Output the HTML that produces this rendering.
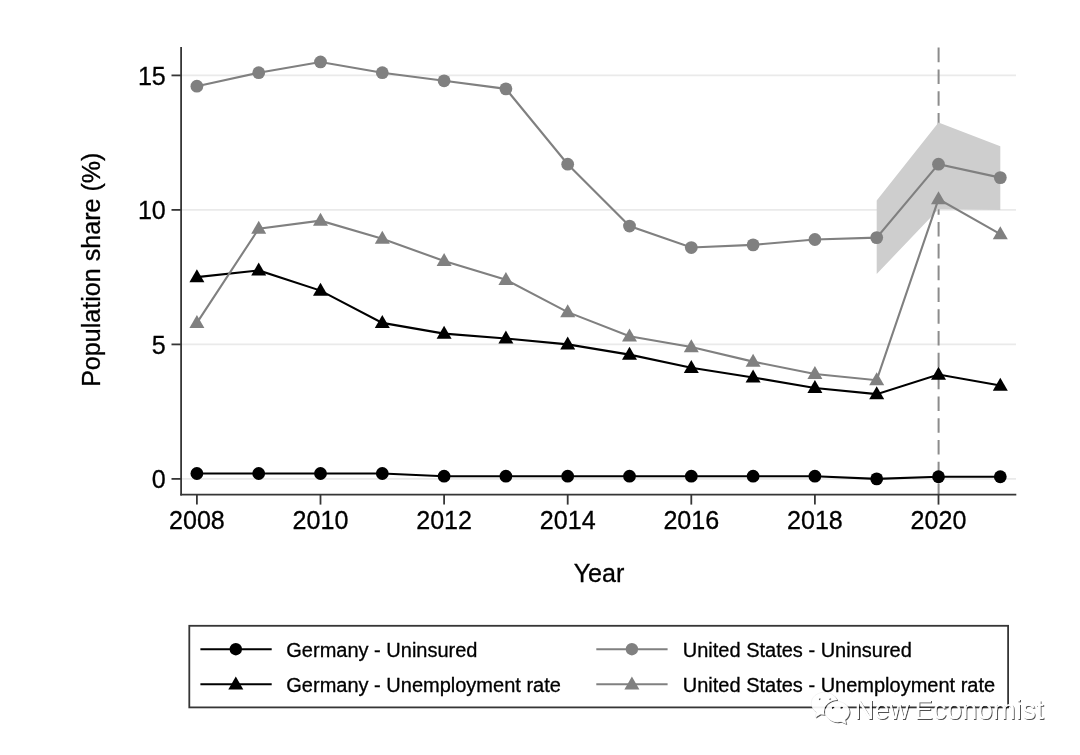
<!DOCTYPE html>
<html lang="en">
<head>
<meta charset="utf-8">
<title>Population share chart</title>
<style>
html,body{margin:0;padding:0;background:#fff;}
body{width:1080px;height:755px;overflow:hidden;font-family:"Liberation Sans",sans-serif;}
svg{display:block;filter:blur(.35px);}
text{font-family:"Liberation Sans",sans-serif;fill:#000;}
.ax,.lg{stroke:#000;stroke-width:.3px;}
.ax{font-size:25.1px;}
.lg{font-size:20px;}
.wmt{font-size:27.25px;fill:#fff;fill-opacity:.95;}
</style>
</head>
<body>
<svg width="1080" height="755" viewBox="0 0 1080 755">
<line x1="181.8" x2="1016" y1="478.9" y2="478.9" stroke="#eaeaea" stroke-width="1.6"/>
<line x1="181.8" x2="1016" y1="344.4" y2="344.4" stroke="#eaeaea" stroke-width="1.6"/>
<line x1="181.8" x2="1016" y1="209.9" y2="209.9" stroke="#eaeaea" stroke-width="1.6"/>
<line x1="181.8" x2="1016" y1="75.4" y2="75.4" stroke="#eaeaea" stroke-width="1.6"/>
<line x1="938.6" x2="938.6" y1="47.6" y2="494" stroke="#8c8c8c" stroke-width="2" stroke-dasharray="14.6 7.2"/>
<polygon points="876.7,200.49 938.5,122.48 1000.3,146.15 1000.3,209.9 938.5,209.36 876.7,273.92" fill="#cecece"/>
<polyline points="196.9,473.52 258.7,473.52 320.5,473.52 382.3,473.52 444.1,476.21 505.9,476.21 567.7,476.21 629.5,476.21 691.3,476.21 753.1,476.21 814.9,476.21 876.7,478.9 938.5,476.75 1000.3,476.75" fill="none" stroke="#000000" stroke-width="2.1"/>
<circle cx="196.9" cy="473.52" r="6.4" fill="#000000"/>
<circle cx="258.7" cy="473.52" r="6.4" fill="#000000"/>
<circle cx="320.5" cy="473.52" r="6.4" fill="#000000"/>
<circle cx="382.3" cy="473.52" r="6.4" fill="#000000"/>
<circle cx="444.1" cy="476.21" r="6.4" fill="#000000"/>
<circle cx="505.9" cy="476.21" r="6.4" fill="#000000"/>
<circle cx="567.7" cy="476.21" r="6.4" fill="#000000"/>
<circle cx="629.5" cy="476.21" r="6.4" fill="#000000"/>
<circle cx="691.3" cy="476.21" r="6.4" fill="#000000"/>
<circle cx="753.1" cy="476.21" r="6.4" fill="#000000"/>
<circle cx="814.9" cy="476.21" r="6.4" fill="#000000"/>
<circle cx="876.7" cy="478.9" r="6.4" fill="#000000"/>
<circle cx="938.5" cy="476.75" r="6.4" fill="#000000"/>
<circle cx="1000.3" cy="476.75" r="6.4" fill="#000000"/>
<polyline points="196.9,277.15 258.7,270.42 320.5,290.6 382.3,322.88 444.1,333.64 505.9,338.48 567.7,344.4 629.5,354.62 691.3,367.8 753.1,377.49 814.9,387.98 876.7,394.16 938.5,374.53 1000.3,385.56" fill="none" stroke="#000000" stroke-width="2.1"/>
<polygon points="196.9,269.25 204.4,282.25 189.4,282.25" fill="#000000"/>
<polygon points="258.7,262.52 266.2,275.52 251.2,275.52" fill="#000000"/>
<polygon points="320.5,282.7 328,295.7 313,295.7" fill="#000000"/>
<polygon points="382.3,314.98 389.8,327.98 374.8,327.98" fill="#000000"/>
<polygon points="444.1,325.74 451.6,338.74 436.6,338.74" fill="#000000"/>
<polygon points="505.9,330.58 513.4,343.58 498.4,343.58" fill="#000000"/>
<polygon points="567.7,336.5 575.2,349.5 560.2,349.5" fill="#000000"/>
<polygon points="629.5,346.72 637,359.72 622,359.72" fill="#000000"/>
<polygon points="691.3,359.9 698.8,372.9 683.8,372.9" fill="#000000"/>
<polygon points="753.1,369.59 760.6,382.59 745.6,382.59" fill="#000000"/>
<polygon points="814.9,380.08 822.4,393.08 807.4,393.08" fill="#000000"/>
<polygon points="876.7,386.26 884.2,399.26 869.2,399.26" fill="#000000"/>
<polygon points="938.5,366.63 946,379.63 931,379.63" fill="#000000"/>
<polygon points="1000.3,377.66 1007.8,390.66 992.8,390.66" fill="#000000"/>
<polyline points="196.9,86.16 258.7,72.71 320.5,61.95 382.3,72.71 444.1,80.78 505.9,88.85 567.7,164.17 629.5,226.04 691.3,247.56 753.1,244.87 814.9,239.49 876.7,237.61 938.5,164.17 1000.3,177.62" fill="none" stroke="#808080" stroke-width="2.1"/>
<circle cx="196.9" cy="86.16" r="6.4" fill="#808080"/>
<circle cx="258.7" cy="72.71" r="6.4" fill="#808080"/>
<circle cx="320.5" cy="61.95" r="6.4" fill="#808080"/>
<circle cx="382.3" cy="72.71" r="6.4" fill="#808080"/>
<circle cx="444.1" cy="80.78" r="6.4" fill="#808080"/>
<circle cx="505.9" cy="88.85" r="6.4" fill="#808080"/>
<circle cx="567.7" cy="164.17" r="6.4" fill="#808080"/>
<circle cx="629.5" cy="226.04" r="6.4" fill="#808080"/>
<circle cx="691.3" cy="247.56" r="6.4" fill="#808080"/>
<circle cx="753.1" cy="244.87" r="6.4" fill="#808080"/>
<circle cx="814.9" cy="239.49" r="6.4" fill="#808080"/>
<circle cx="876.7" cy="237.61" r="6.4" fill="#808080"/>
<circle cx="938.5" cy="164.17" r="6.4" fill="#808080"/>
<circle cx="1000.3" cy="177.62" r="6.4" fill="#808080"/>
<polyline points="196.9,322.88 258.7,228.73 320.5,220.66 382.3,238.68 444.1,261.01 505.9,279.84 567.7,312.12 629.5,336.33 691.3,347.09 753.1,361.62 814.9,373.99 876.7,380.18 938.5,199.14 1000.3,234.11" fill="none" stroke="#808080" stroke-width="2.1"/>
<polygon points="196.9,314.98 204.4,327.98 189.4,327.98" fill="#808080"/>
<polygon points="258.7,220.83 266.2,233.83 251.2,233.83" fill="#808080"/>
<polygon points="320.5,212.76 328,225.76 313,225.76" fill="#808080"/>
<polygon points="382.3,230.78 389.8,243.78 374.8,243.78" fill="#808080"/>
<polygon points="444.1,253.11 451.6,266.11 436.6,266.11" fill="#808080"/>
<polygon points="505.9,271.94 513.4,284.94 498.4,284.94" fill="#808080"/>
<polygon points="567.7,304.22 575.2,317.22 560.2,317.22" fill="#808080"/>
<polygon points="629.5,328.43 637,341.43 622,341.43" fill="#808080"/>
<polygon points="691.3,339.19 698.8,352.19 683.8,352.19" fill="#808080"/>
<polygon points="753.1,353.72 760.6,366.72 745.6,366.72" fill="#808080"/>
<polygon points="814.9,366.09 822.4,379.09 807.4,379.09" fill="#808080"/>
<polygon points="876.7,372.28 884.2,385.28 869.2,385.28" fill="#808080"/>
<polygon points="938.5,191.24 946,204.24 931,204.24" fill="#808080"/>
<polygon points="1000.3,226.21 1007.8,239.21 992.8,239.21" fill="#808080"/>
<line x1="181.1" x2="181.1" y1="47" y2="495.5" stroke="#363636" stroke-width="1.8"/>
<line x1="180.3" x2="1016.3" y1="494.7" y2="494.7" stroke="#363636" stroke-width="1.8"/>
<line x1="171.5" x2="181.1" y1="478.9" y2="478.9" stroke="#363636" stroke-width="1.8"/>
<text x="165.8" y="488.4" text-anchor="end" class="ax">0</text>
<line x1="171.5" x2="181.1" y1="344.4" y2="344.4" stroke="#363636" stroke-width="1.8"/>
<text x="165.8" y="353.9" text-anchor="end" class="ax">5</text>
<line x1="171.5" x2="181.1" y1="209.9" y2="209.9" stroke="#363636" stroke-width="1.8"/>
<text x="165.8" y="219.4" text-anchor="end" class="ax">10</text>
<line x1="171.5" x2="181.1" y1="75.4" y2="75.4" stroke="#363636" stroke-width="1.8"/>
<text x="165.8" y="84.9" text-anchor="end" class="ax">15</text>
<line x1="196.9" x2="196.9" y1="494.7" y2="504.6" stroke="#363636" stroke-width="1.8"/>
<text x="196.9" y="528.7" text-anchor="middle" class="ax">2008</text>
<line x1="320.5" x2="320.5" y1="494.7" y2="504.6" stroke="#363636" stroke-width="1.8"/>
<text x="320.5" y="528.7" text-anchor="middle" class="ax">2010</text>
<line x1="444.1" x2="444.1" y1="494.7" y2="504.6" stroke="#363636" stroke-width="1.8"/>
<text x="444.1" y="528.7" text-anchor="middle" class="ax">2012</text>
<line x1="567.7" x2="567.7" y1="494.7" y2="504.6" stroke="#363636" stroke-width="1.8"/>
<text x="567.7" y="528.7" text-anchor="middle" class="ax">2014</text>
<line x1="691.3" x2="691.3" y1="494.7" y2="504.6" stroke="#363636" stroke-width="1.8"/>
<text x="691.3" y="528.7" text-anchor="middle" class="ax">2016</text>
<line x1="814.9" x2="814.9" y1="494.7" y2="504.6" stroke="#363636" stroke-width="1.8"/>
<text x="814.9" y="528.7" text-anchor="middle" class="ax">2018</text>
<line x1="938.5" x2="938.5" y1="494.7" y2="504.6" stroke="#363636" stroke-width="1.8"/>
<text x="938.5" y="528.7" text-anchor="middle" class="ax">2020</text>
<text x="599" y="581.5" text-anchor="middle" class="ax">Year</text>
<text transform="translate(100.2 269.7) rotate(-90)" text-anchor="middle" class="ax">Population share (%)</text>
<rect x="189.3" y="625.8" width="818.8" height="81.6" fill="#fff" stroke="#363636" stroke-width="1.8"/>
<line x1="200.4" x2="271.7" y1="649.2" y2="649.2" stroke="#000000" stroke-width="2"/><circle cx="235.8" cy="649.2" r="6.2" fill="#000000"/><text x="286.3" y="657.2" class="lg">Germany - Uninsured</text>
<line x1="200.4" x2="271.7" y1="684.3" y2="684.3" stroke="#000000" stroke-width="2"/><polygon points="235.8,676.4 243.3,689.4 228.3,689.4" fill="#000000"/><text x="286.3" y="692.3" class="lg">Germany - Unemployment rate</text>
<line x1="596.3" x2="667.6" y1="649.2" y2="649.2" stroke="#808080" stroke-width="2"/><circle cx="631.9" cy="649.2" r="6.2" fill="#808080"/><text x="682.8" y="657.2" class="lg">United States - Uninsured</text>
<line x1="596.3" x2="667.6" y1="684.3" y2="684.3" stroke="#808080" stroke-width="2"/><polygon points="631.9,676.4 639.4,689.4 624.4,689.4" fill="#808080"/><text x="682.8" y="692.3" class="lg">United States - Unemployment rate</text>
<defs>
<mask id="cut" maskUnits="userSpaceOnUse" x="800" y="685" width="60" height="45">
<rect x="800" y="685" width="60" height="45" fill="#fff"/>
<ellipse cx="837.4" cy="711.8" rx="13.4" ry="11.7" fill="#000"/>
<ellipse cx="819.9" cy="699.3" rx="1.15" ry="1.15" fill="#000"/>
<ellipse cx="830.3" cy="699.3" rx="1.15" ry="1.15" fill="#000"/>
</mask>
<mask id="cut2" maskUnits="userSpaceOnUse" x="800" y="685" width="60" height="45">
<rect x="800" y="685" width="60" height="45" fill="#fff"/>
<ellipse cx="833.1" cy="708" rx="1.3" ry="1.3" fill="#000"/>
<ellipse cx="841.7" cy="708" rx="1.3" ry="1.3" fill="#000"/>
</mask>
<filter id="sh" x="-10%" y="-10%" width="125%" height="125%" color-interpolation-filters="sRGB">
<feGaussianBlur in="SourceAlpha" stdDeviation="0.5" result="b"/>
<feOffset in="b" dx="1.1" dy="1.1" result="o"/>
<feFlood flood-color="#000" flood-opacity="0.72"/>
<feComposite in2="o" operator="in" result="s0"/>
<feComposite in="s0" in2="SourceAlpha" operator="out" result="s"/>
<feMerge><feMergeNode in="s"/><feMergeNode in="SourceGraphic"/></feMerge>
</filter>
</defs>
<g filter="url(#sh)">
<path mask="url(#cut)" fill="#fff" fill-opacity="0.93" stroke="#000" stroke-opacity=".08" stroke-width=".6" d="M824.5 692.2c-7.400 0-13.300 5-13.300 11.200 0 3.600 2 6.800 5.200 8.800l-1.200 5.300 5.300-3.300c1.300.3 2.600.5 4 .5 7.400 0 13.300-5 13.300-11.300s-5.900-11.200-13.300-11.200z"/>
<path mask="url(#cut2)" fill="#fff" fill-opacity="0.93" stroke="#000" stroke-opacity=".08" stroke-width=".6" d="M837.400 701.400c-6.700 0-12.100 4.700-12.100 10.400s5.400 10.400 12.100 10.400c1.300 0 2.500-.2 3.700-.5l5.100 2.400-1.100-4.300c2.700-1.900 4.400-4.800 4.400-8 0-5.700-5.400-10.400-12.100-10.400z"/>
<text x="854.5" y="719.4" class="wmt">New <tspan x="914.4" style="letter-spacing:.24px">Economist</tspan></text>
</g>
</svg>
</body>
</html>
